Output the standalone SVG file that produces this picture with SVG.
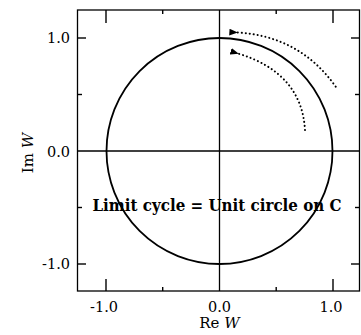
<svg xmlns="http://www.w3.org/2000/svg" width="361" height="335" viewBox="0 0 361 335">
<style>
.ax{stroke:#000;stroke-width:1.3;fill:none}
.tk{stroke:#000;stroke-width:1.4}
.lbl{font-family:"DejaVu Serif","Liberation Serif",serif;font-size:14.5px;fill:#000}
.dot{stroke:#000;stroke-width:2;fill:none;stroke-dasharray:0.1 3.9;stroke-linecap:round}
</style>
<defs>
<marker id="ah" viewBox="0 0 10 10" refX="1" refY="5" markerWidth="8.5" markerHeight="8.5" markerUnits="userSpaceOnUse" orient="auto-start-reverse">
<path d="M0,5 L10,1 L10,9 Z" fill="#000"/>
</marker>
</defs>
<rect width="361" height="335" fill="#fff"/>
<g id="frame">
<rect class="ax" x="77.5" y="10" width="282" height="281" stroke-width="1.5"/>
<line class="ax" x1="77.5" y1="151" x2="359.5" y2="151"/>
<line class="ax" x1="219.5" y1="10" x2="219.5" y2="291"/>
</g>
<g id="ticks">
<line class="tk" x1="106" y1="291" x2="106" y2="279"/>
<line class="tk" x1="162.7" y1="291" x2="162.7" y2="287"/>
<line class="tk" x1="276.2" y1="291" x2="276.2" y2="287"/>
<line class="tk" x1="333" y1="291" x2="333" y2="279"/>
<line class="tk" x1="106" y1="10" x2="106" y2="23"/>
<line class="tk" x1="162.7" y1="10" x2="162.7" y2="14"/>
<line class="tk" x1="276.2" y1="10" x2="276.2" y2="14"/>
<line class="tk" x1="333" y1="10" x2="333" y2="23"/>
<line class="tk" x1="77.5" y1="38" x2="86" y2="38"/>
<line class="tk" x1="77.5" y1="94.5" x2="82" y2="94.5"/>
<line class="tk" x1="77.5" y1="207.5" x2="82" y2="207.5"/>
<line class="tk" x1="77.5" y1="264" x2="86" y2="264"/>
<line class="tk" x1="359.5" y1="38" x2="351" y2="38"/>
<line class="tk" x1="359.5" y1="94.5" x2="355" y2="94.5"/>
<line class="tk" x1="359.5" y1="207.5" x2="355" y2="207.5"/>
<line class="tk" x1="359.5" y1="264" x2="351" y2="264"/>
</g>
<g id="tick-labels" class="lbl">
<text x="70" y="43" text-anchor="end">1.0</text>
<text x="70" y="157" text-anchor="end">0.0</text>
<text x="70" y="269" text-anchor="end">-1.0</text>
<text x="104" y="312" text-anchor="middle">-1.0</text>
<text x="219.5" y="312" text-anchor="middle">0.0</text>
<text x="331" y="312" text-anchor="middle">1.0</text>
</g>
<g id="axis-titles" class="lbl" font-size="15px">
<text x="219.5" y="328" text-anchor="middle" font-size="15px">Re <tspan font-style="italic">W</tspan></text>
<text transform="translate(32.5,153) rotate(-90)" text-anchor="middle" font-size="15px">Im <tspan font-style="italic">W</tspan></text>
</g>
<g id="limit-cycle">
<circle cx="219.5" cy="151" r="113" fill="none" stroke="#000" stroke-width="1.8"/>
</g>
<g id="connectors">
<path class="dot" d="M335.7,86.7 Q300,36 237,32.5" marker-end="url(#ah)"/>
<path class="dot" d="M305,130 Q301.6,72.8 238,53.5" marker-end="url(#ah)"/>
</g>
<g id="label">
<text x="92.5" y="211" font-family="'DejaVu Serif','Liberation Serif',serif" font-weight="bold" font-size="16.5px" textLength="249" lengthAdjust="spacingAndGlyphs">Limit cycle = Unit circle on C</text>
</g>
</svg>
